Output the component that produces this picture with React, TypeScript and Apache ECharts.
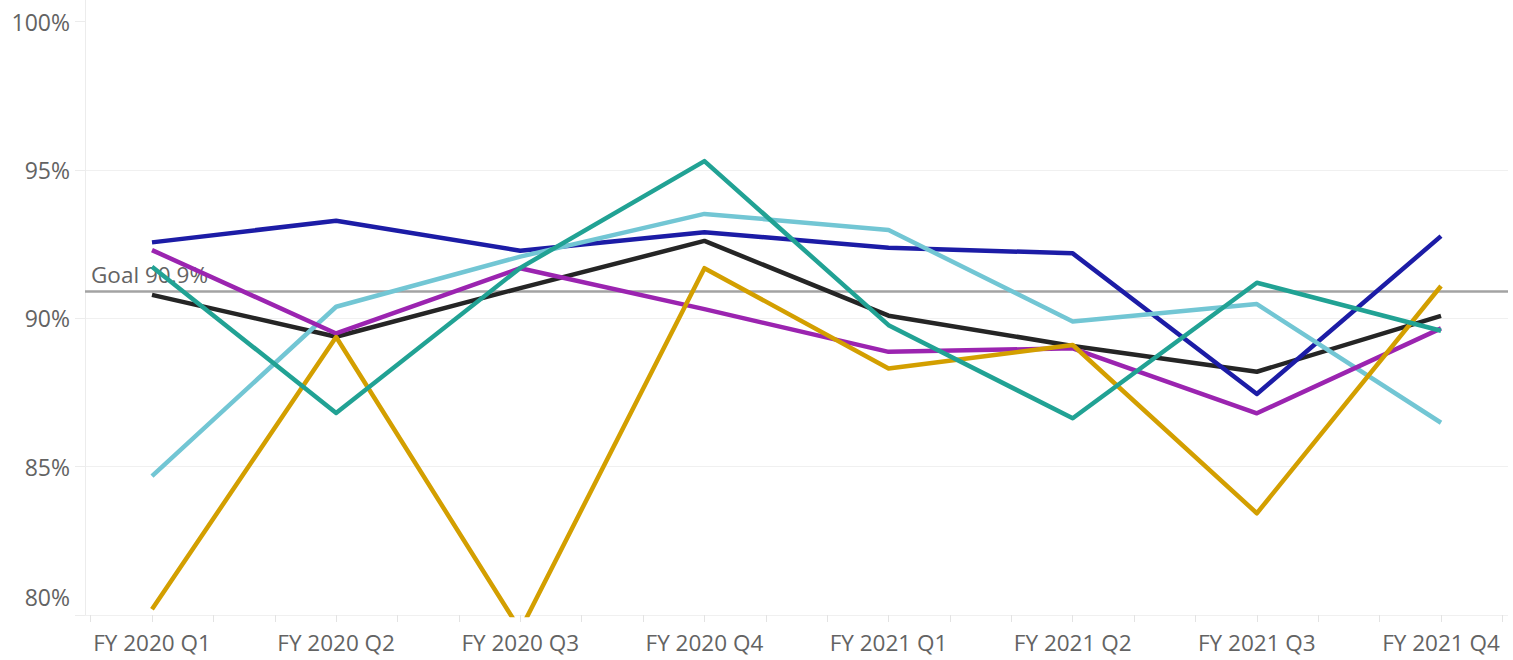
import React, { useEffect, useRef } from "react";
import * as echarts from "echarts";

// ---- Data ----
const quarters = [
  "FY 2020 Q1",
  "FY 2020 Q2",
  "FY 2020 Q3",
  "FY 2020 Q4",
  "FY 2021 Q1",
  "FY 2021 Q2",
  "FY 2021 Q3",
  "FY 2021 Q4",
];

const overallValues = [90.79, 89.38, 91.02, 92.61, 90.09, 89.07, 88.2, 90.08];
const blueValues = [92.56, 93.29, 92.28, 92.9, 92.38, 92.19, 87.45, 92.77];
const lightTealValues = [84.68, 90.39, 92.08, 93.52, 92.98, 89.89, 90.48, 86.48];
const purpleValues = [92.3, 89.49, 91.69, 90.31, 88.87, 88.99, 86.8, 89.66];
const goldValues = [80.19, 89.37, 79.49, 91.69, 88.31, 89.1, 83.43, 91.09];
const tealValues = [91.74, 86.81, 91.7, 95.3, 89.77, 86.63, 91.2, 89.58];

const GOAL = 90.9;
const yTickValues = [80, 85, 90, 95, 100];

const seriesDefs = [
  { name: "Overall", values: overallValues, color: "#252525" },
  { name: "Region A", values: blueValues, color: "#1c1ca6" },
  { name: "Region B", values: lightTealValues, color: "#72c6d4" },
  { name: "Region C", values: purpleValues, color: "#9b24b0" },
  { name: "Region D", values: goldValues, color: "#d39f00" },
  { name: "Region E", values: tealValues, color: "#21a294" },
];

const FONT = "'Open Sans', 'Segoe UI', 'Noto Sans', sans-serif";
const TEXT_COLOR = "#636363";
const LIGHT = "#ececec";
const FONT_SIZE = 22.5;

export default function App() {
  const ref = useRef<HTMLDivElement>(null);

  useEffect(() => {
    document.body.style.margin = "0";
    if (!ref.current) return;
    const chart = echarts.init(ref.current, undefined, { renderer: "svg" });

    const monthTicks: number[] = [];
    for (let k = -1; k <= (quarters.length - 1) * 3 + 1; k++) monthTicks.push(k / 3);
    const quarterIdx = quarters.map((_, i) => i);

    const series: any[] = seriesDefs.map((s, si) => ({
      type: "line",
      name: s.name,
      data: s.values.map((v, i) => [i, v]),
      showSymbol: false,
      symbol: "none",
      clip: true,
      lineStyle: { color: s.color, width: 4.5, join: "round" },
      itemStyle: { color: s.color },
      z: 3 + si,
      ...(si === 0
        ? {
            markLine: {
              silent: true,
              symbol: "none",
              z: 2,
              data: [{ yAxis: GOAL }],
              lineStyle: { color: "#a3a3a3", width: 2.5, type: "solid" },
              label: {
                show: true,
                position: "insideStartTop",
                formatter: () => `Goal ${GOAL}%`,
                color: TEXT_COLOR,
                fontFamily: FONT,
                fontSize: FONT_SIZE,
                distance: [6, 6],
              },
            },
          }
        : {}),
    }));

    chart.setOption({
      animation: false,
      backgroundColor: "#ffffff",
      grid: {
        left: 85,
        right: 5,
        top: 0,
        bottom: 45,
        containLabel: false,
        outerBoundsMode: "none",
      },
      xAxis: {
        type: "value",
        min: -0.3638,
        max: 7.3638,
        splitLine: { show: false },
        axisLine: { show: false, onZero: false },
        axisTick: {
          show: true,
          length: 7,
          customValues: monthTicks,
          lineStyle: { color: "#e3e3e3", width: 1 },
        },
        axisLabel: {
          customValues: quarterIdx,
          formatter: (v: number) => quarters[Math.round(v)] ?? "",
          color: TEXT_COLOR,
          fontFamily: FONT,
          fontSize: FONT_SIZE,
          margin: 16,
        },
      },
      yAxis: {
        type: "value",
        min: 80,
        max: 100.73,
        interval: 5,
        axisLine: { show: true, onZero: false, lineStyle: { color: LIGHT, width: 1 } },
        axisTick: {
          show: true,
          length: 10,
          customValues: yTickValues,
          lineStyle: { color: LIGHT, width: 1 },
        },
        splitLine: {
          show: true,
          showMaxLine: false,
          lineStyle: { color: "#f0f0f0", width: 1 },
        },
        axisLabel: {
          customValues: yTickValues,
          formatter: (v: number) =>
            v === yTickValues[0] ? `{min|${v}%}` : `${v}%`,
          color: TEXT_COLOR,
          fontFamily: FONT,
          fontSize: 23,
          margin: 15,
          rich: {
            min: {
              color: TEXT_COLOR,
              fontFamily: FONT,
              fontSize: 23,
              padding: [0, 0, 36, 0],
            },
          },
        },
      },
      series,
    });

    return () => chart.dispose();
  }, []);

  return <div ref={ref} style={{ width: 1513, height: 660 }} />;
}
